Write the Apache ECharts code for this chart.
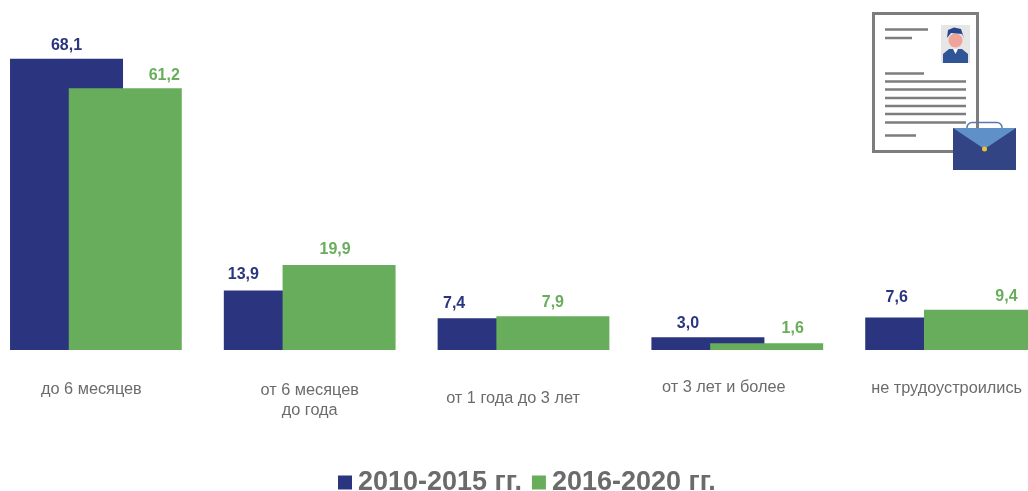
<!DOCTYPE html>
<html>
<head>
<meta charset="utf-8">
<style>
  html, body { margin: 0; padding: 0; background: #fff; overflow: hidden; }
  #chart { width: 1028px; height: 491px; }
</style>
<script src="https://cdn.jsdelivr.net/npm/echarts@6/dist/echarts.min.js"></script>
</head>
<body>
<div id="chart"></div>
<script>
const categories = ['до 6 месяцев', 'от 6 месяцев\nдо года', 'от 1 года до 3 лет', 'от 3 лет и более', 'не трудоустроились'];
const series2010 = [68.1, 13.9, 7.4, 3.0, 7.6];
const series2016 = [61.2, 19.9, 7.9, 1.6, 9.4];
const name2010 = '2010-2015 гг.';
const name2016 = '2016-2020 гг.';

const navy = '#2b357f';
const green = '#68ad5b';
const grayText = '#6b6b6b';
const iconGray = '#7d7d7d';

// подписи в оригинале стоят неровно, поэтому сдвигаем каждую отдельно
const labelPads = [
  [2, 9, 0, 0],
  [3, 0, 0, 0],
  [11, 21, 0, 0],
  [0, 27, 0, 0],
  [1, 9, 0, 0]
];
const offsets2010 = [[0, -1], [-37, -4], [-40, -3], [-20, -2], [-25, -8]];
const offsets2016 = [[39, -1], [-4, -3], [0, -2], [26, -3], [26, -1]];

function valueLabel(color) {
  return {
    show: true,
    position: 'top',
    distance: 4,
    color: color,
    fontFamily: 'Liberation Sans',
    fontWeight: 'bold',
    fontSize: 16,
    formatter: function (p) {
      return p.value.toFixed(1).replace('.', ',');
    }
  };
}

function barData(values, offsets) {
  return values.map(function (v, i) {
    return { value: v, label: { offset: offsets[i] } };
  });
}

function line(x1, x2, y) {
  return {
    type: 'line',
    shape: { x1: x1, y1: y, x2: x2, y2: y },
    style: { stroke: iconGray, lineWidth: 2.5 }
  };
}

// иконка резюме с портфелем
const icon = [
  { type: 'rect', shape: { x: 873.5, y: 13.5, width: 104, height: 138 }, style: { fill: '#fff', stroke: iconGray, lineWidth: 3 } },
  line(885, 928, 29.5),
  line(885, 912, 38),
  line(885, 924, 73.5),
  line(885, 966, 81.5),
  line(885, 966, 89.5),
  line(885, 966, 98),
  line(885, 966, 106),
  line(885, 966, 114),
  line(885, 966, 122.5),
  line(885, 916, 135.5),
  { type: 'rect', shape: { x: 941, y: 25, width: 29, height: 38 }, style: { fill: '#e6e6e6' } },
  { type: 'polygon', shape: { points: [[943, 63], [943, 54], [949, 49], [962, 49], [968, 54], [968, 63]] }, style: { fill: '#2f5596' } },
  { type: 'circle', shape: { cx: 955.5, cy: 40.5, r: 7 }, style: { fill: '#eea39b' } },
  { type: 'polygon', shape: { points: [[947, 38], [948, 30], [954, 27.5], [961, 29], [964, 38], [962, 34], [951, 33]] }, style: { fill: '#27478c' } },
  { type: 'polygon', shape: { points: [[953, 49], [958, 49], [955.5, 54]] }, style: { fill: '#fff' } },
  { type: 'rect', shape: { x: 967, y: 122.5, width: 35, height: 14, r: 5 }, style: { fill: 'none', stroke: '#5b78ad', lineWidth: 1.5 } },
  { type: 'rect', shape: { x: 953, y: 128, width: 63, height: 42 }, style: { fill: '#334484' } },
  { type: 'polygon', shape: { points: [[953, 128], [1016, 128], [984.5, 149]] }, style: { fill: '#5f91c8' } },
  { type: 'circle', shape: { cx: 984.5, cy: 149, r: 2.5 }, style: { fill: '#eec12e' } }
];

const chart = echarts.init(document.getElementById('chart'), null, { renderer: 'canvas' });
chart.setOption({
  animation: false,
  backgroundColor: '#fff',
  textStyle: { fontFamily: 'Liberation Sans' },
  grid: { left: -11, width: 1069, top: 8, height: 342, containLabel: false, outerBoundsMode: 'none' },
  legend: {
    data: [name2010, name2016],
    left: 333,
    top: 464,
    icon: 'rect',
    itemWidth: 14,
    itemHeight: 14,
    itemGap: 10,
    textStyle: {
      color: grayText,
      fontFamily: 'Liberation Sans',
      fontWeight: 'bold',
      fontSize: 27,
      padding: [0, 0, 0, 1]
    }
  },
  xAxis: {
    type: 'category',
    data: categories.map(function (c, i) {
      return { value: c, textStyle: { padding: labelPads[i] } };
    }),
    axisLine: { show: false },
    axisTick: { show: false },
    axisLabel: {
      margin: 28,
      interval: 0,
      color: grayText,
      fontFamily: 'Liberation Sans',
      fontSize: 16.3,
      lineHeight: 20
    }
  },
  yAxis: { type: 'value', min: 0, max: 80, show: false },
  series: [{
    name: name2010,
    type: 'bar',
    data: barData(series2010, offsets2010),
    barWidth: 113,
    barGap: '-48%',
    itemStyle: { color: navy },
    label: valueLabel(navy)
  }, {
    name: name2016,
    type: 'bar',
    data: barData(series2016, offsets2016),
    barWidth: 113,
    itemStyle: { color: green },
    label: valueLabel(green)
  }],
  graphic: icon
});
</script>
</body>
</html>
